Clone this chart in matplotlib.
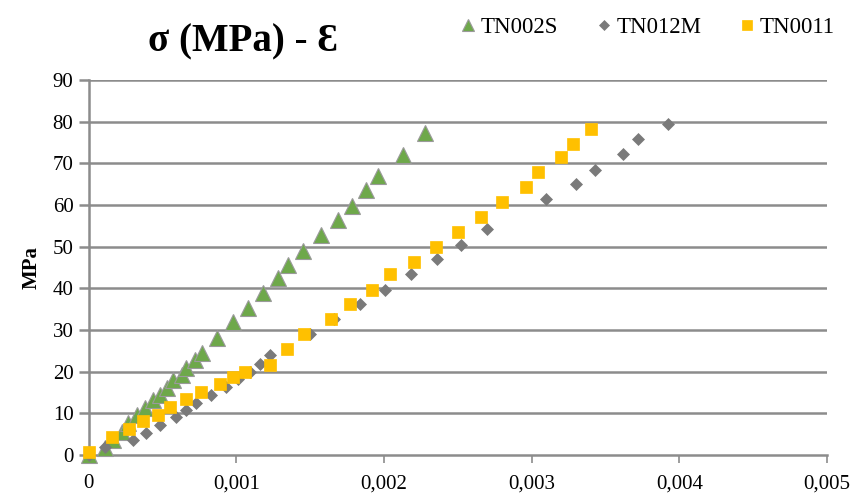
import matplotlib
matplotlib.use("Agg")
import matplotlib.pyplot as plt
from matplotlib.ticker import FuncFormatter

plt.rcParams['font.family'] = ['Liberation Serif', 'DejaVu Serif']

# TN002S (green triangles)
tn002s_strain = [0, 0.00011, 0.000163, 0.000224, 0.000264, 0.000325, 0.00038, 0.000434, 0.00048,
                 0.00053, 0.00057, 0.00063, 0.00066, 0.00072, 0.00077, 0.00087, 0.00098, 0.00108,
                 0.00118, 0.00128, 0.00135, 0.00145, 0.00157, 0.00169, 0.00178, 0.00188, 0.00196,
                 0.00213, 0.00228]
tn002s_mpa = [0, 1.8, 3.6, 5.5, 7.7, 9.6, 11.3, 13.2, 14.4,
              16.0, 18.0, 19.2, 20.9, 22.8, 24.4, 28.0, 31.9, 35.3,
              38.9, 42.5, 45.6, 49.0, 52.8, 56.4, 59.8, 63.6, 67.0,
              72.0, 77.3]

# TN012M (grey diamonds)
tn012m_strain = [0, 0.00011, 0.0003, 0.00039, 0.00048, 0.00059, 0.00066, 0.00073, 0.00083,
                 0.00093, 0.00101, 0.00109, 0.00116, 0.00123, 0.0015, 0.00166, 0.00184, 0.00201,
                 0.00218, 0.00236, 0.00252, 0.0027, 0.0031, 0.0033, 0.00343, 0.00362, 0.00372,
                 0.00392]
tn012m_mpa = [0, 1.9, 3.6, 5.3, 7.2, 9.1, 10.8, 12.5, 14.4,
              16.3, 18.2, 20.0, 21.8, 24.0, 29.0, 32.6, 36.2, 39.6,
              43.4, 47.0, 50.4, 54.2, 61.4, 65.0, 68.4, 72.2, 75.8,
              79.4]

# TN0011 (yellow squares)
tn0011_strain = [0, 0.00016, 0.00027, 0.00037, 0.00047, 0.00055, 0.00066, 0.00076, 0.00089,
                 0.00098, 0.00106, 0.00123, 0.00134, 0.00146, 0.00164, 0.00177, 0.00192, 0.00204,
                 0.0022, 0.00235, 0.0025, 0.00266, 0.0028, 0.00296, 0.00304, 0.0032, 0.00328,
                 0.0034]
tn0011_mpa = [0.7, 4.3, 6.2, 8.2, 9.6, 11.5, 13.4, 15.1, 17.0,
              18.7, 19.9, 21.6, 25.4, 29.0, 32.6, 36.2, 39.6, 43.4,
              46.3, 50.0, 53.5, 57.1, 60.7, 64.3, 68.0, 71.5, 74.6,
              78.2]

x_ticks = [0, 0.001, 0.002, 0.003, 0.004, 0.005]
y_ticks = [0, 10, 20, 30, 40, 50, 60, 70, 80, 90]

fig = plt.figure(figsize=(8.53, 4.97), dpi=100)
ax = fig.add_axes([0.104, 0.0845, 0.8655, 0.7545])

grid_c = '#8c8c8c'
for y in y_ticks[1:]:
    ax.axhline(y, color=grid_c, lw=1.8, zorder=1)

ax.plot(tn002s_strain, tn002s_mpa, linestyle='none', marker='^', ms=11,
        mfc='#6ea84a', mec='#9a9a9a', mew=0.8, label='TN002S', zorder=3, clip_on=False)
ax.plot(tn012m_strain, tn012m_mpa, linestyle='none', marker='D', ms=6.5,
        mfc='#7a7a7a', mec='#7a7a7a', mew=0.5, label='TN012M', zorder=3, clip_on=False)
ax.plot(tn0011_strain, tn0011_mpa, linestyle='none', marker='s', ms=8.5,
        mfc='#ffc000', mec='#ffc000', mew=0.5, label='TN0011', zorder=4, clip_on=False)

ax.set_xlim(0, 0.005)
ax.set_ylim(0, 90)
ax.set_xticks(x_ticks)
ax.set_yticks(y_ticks)
ax.xaxis.set_major_formatter(FuncFormatter(lambda v, p: '0' if v == 0 else ('%.3f' % v).replace('.', ',')))
ax.yaxis.set_major_formatter(FuncFormatter(lambda v, p: '%d' % v))

for s in ['top', 'right']:
    ax.spines[s].set_visible(False)
for s in ['left', 'bottom']:
    ax.spines[s].set_color(grid_c)
    ax.spines[s].set_linewidth(1.8)
    ax.spines[s].set_zorder(2)
ax.tick_params(axis='x', direction='out', length=6, color=grid_c, width=1.2,
               labelsize=15, pad=8)
ax.tick_params(axis='y', direction='out', length=7, color=grid_c, width=1.8,
               labelsize=15, pad=4)

ax.set_ylabel('MPa', fontsize=15, fontweight='bold', labelpad=8)

fig.text(0.285, 0.915, 'σ (MPa) - Ɛ', fontsize=28, fontweight='bold',
         ha='center', va='center')

fig.legend(loc='center', bbox_to_anchor=(0.757, 0.945), ncol=3, frameon=False,
           fontsize=16.5, handletextpad=0.05, columnspacing=1.5, markerscale=0.8,
           handlelength=1.0)

fig.savefig('out.png', dpi=100)
